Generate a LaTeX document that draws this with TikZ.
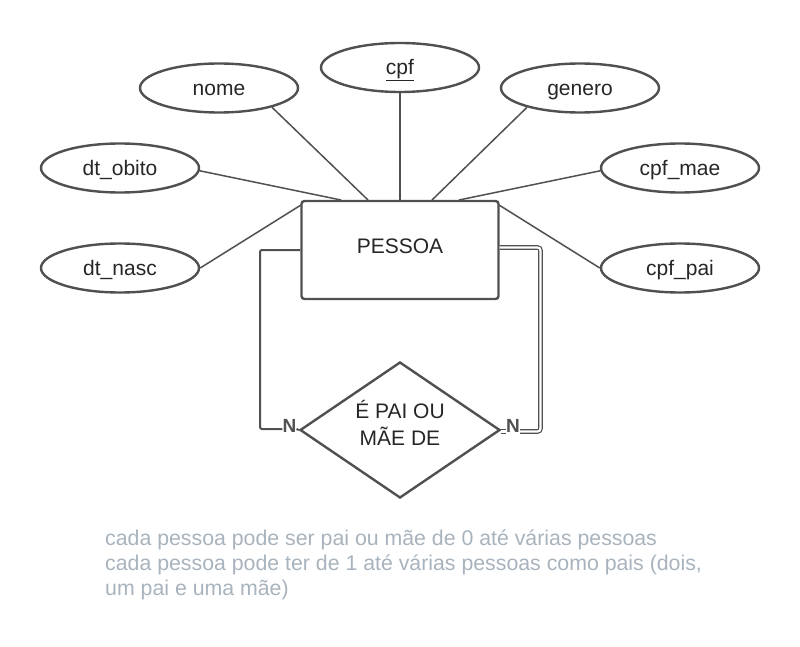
\documentclass[tikz,border=0pt]{standalone}
\usepackage{fontspec}
\setmainfont{Liberation Sans}
\usepackage{xcolor}
\usetikzlibrary{positioning, shapes.geometric}

\definecolor{erline}{HTML}{505050}
\definecolor{notegray}{HTML}{A8B3BD}

\tikzset{
    attr/.style={ellipse, draw=erline, line width=2.4pt, minimum width=158pt, minimum height=49pt, inner sep=0pt, text height=18.6pt, text depth=4pt, font=\fontsize{21}{24}\selectfont, text=black!85},
    link/.style={draw=erline, line width=1.5pt},
    card/.style={font=\bfseries\fontsize{19}{22}\selectfont, text=erline, inner sep=0pt},
    note/.style={anchor=base west, text=notegray, font=\fontsize{21.3}{25}\selectfont, inner sep=0pt},
    dbl/.style={draw=erline, line width=1.2pt, double=white, double distance=2.2pt}
}

\begin{document}
\begin{tikzpicture}[x=1pt, y=-1pt]
    \useasboundingbox (0,0) rectangle (800,647);

    % Entity
    \node[draw=erline, line width=2.4pt, rounded corners=3pt, minimum width=197pt, minimum height=98pt] (pessoa) at (400,250) {};
    \node[anchor=base, font=\fontsize{21}{24}\selectfont, text=black!85] (pessoatxt) at (400,253) {PESSOA};

    % Attributes
    \node[attr] (nome) at (219,88) {nome};
    \node[attr] (cpf) at (400,67.5) {\underline{cpf}};
    \node[attr] (genero) at (580,88) {genero};
    \node[attr] (obito) at (120,168) {dt\_obito};
    \node[attr] (mae) at (680,168) {cpf\_mae};
    \node[attr] (nasc) at (120,268) {dt\_nasc};
    \node[attr] (pai) at (680,268) {cpf\_pai};

    \coordinate (pNome) at (368,200);
    \coordinate (pCpf) at (400,200);
    \coordinate (pGenero) at (432,200);
    \coordinate (pObito) at (341,200);
    \coordinate (pMae) at (459,200);
    \coordinate (pNasc) at (301,205);
    \coordinate (pPai) at (499,205);

    \draw[link] (nome.-20) -- (pNome);
    \draw[link] (cpf.south) -- (pCpf);
    \draw[link] (genero.-160) -- (pGenero);
    \draw[link] (obito.-2) -- (pObito);
    \draw[link] (mae.182) -- (pMae);
    \draw[link] (nasc.east) -- (pNasc);
    \draw[link] (pai.west) -- (pPai);

    % Relationship
    \node[diamond, draw=erline, line width=2.4pt, minimum width=200pt, minimum height=136pt, inner sep=0pt, aspect=1.47] (rel) at (400,430) {};
    \node[anchor=base, align=center, font=\fontsize{21}{27}\selectfont, text=black!85] (reltxt) at (400,418.5) {É PAI OU};
    \node[anchor=base, font=\fontsize{21}{27}\selectfont, text=black!85] (reltxt2) at (400,445.5) {MÃE DE};

    \node[card] (nL) at (289.5,426) {N};
    \node[card] (nR) at (513,426) {N};

    % left side, single line
    \coordinate (lA) at (260,250);
    \coordinate (lB) at (260,429);
    \draw[link, line width=2pt, rounded corners=2pt] (pessoa.west |- lA) -- (lA) -- (lB) -- (nL.west |- lB);
    \draw[link, line width=2pt] (nL.east |- lB) -- (rel.west);

    % right side, double line
    \coordinate (rA) at (540.5,247.5);
    \coordinate (rB) at (540.5,431.5);
    \draw[dbl, rounded corners=3pt] (pessoa.east |- rA) -- (rA) -- (rB) -- (nR.east |- rB);
    \draw[dbl] (nR.west |- rB) -- (rel.east |- rB);

    % Notes
    \node[note] (note1) at (105,545) {cada pessoa pode ser pai ou mãe de 0 até várias pessoas};
    \node[note] (note2) at (105,570) {cada pessoa pode ter de 1 até várias pessoas como pais (dois,};
    \node[note] (note3) at (105,595) {um pai e uma mãe)};
\end{tikzpicture}
\end{document}
